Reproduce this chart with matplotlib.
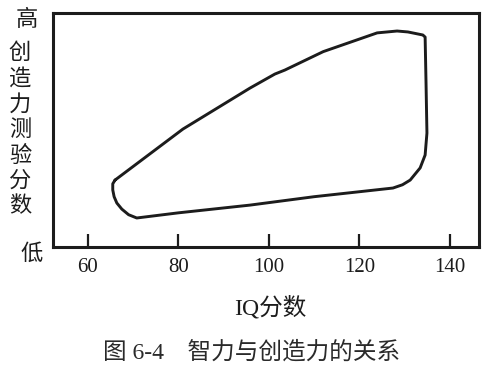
"Intelligence vs creativity region chart (Fig 6-4)"

import matplotlib.pyplot as plt

# outline of the scatter region (IQ, creativity 0-100)
iq = [66.0, 65.5, 65.5, 65.8, 66.4, 67.5, 69.0, 70.8, 80.0, 95.8, 110.0,
      127.4, 129.5, 131.2, 133.4, 134.5, 134.9, 134.7, 134.5, 134.0,
      130.7, 128.3, 123.9, 112.0, 103.5, 101.3, 95.8, 81.0, 66.0]
creativity = [28.6, 27.0, 24.4, 21.5, 18.8, 16.2, 13.8, 12.4, 14.6, 17.9,
              21.5, 25.2, 26.6, 28.6, 33.8, 39.3, 48.7, 70.0, 89.7, 90.6,
              91.9, 92.3, 91.5, 83.5, 75.6, 73.9, 67.9, 50.4, 28.6]

xticks = [60, 80, 100, 120, 140]
ylabel_chars = list('创造力测验分数')

W, H = 500, 379
ink = '#1c1c1c'
fam = ['Liberation Serif', 'Noto Sans CJK SC']


def fx(px):
    return px / W


def fy(py):
    return 1 - py / H


fig = plt.figure(figsize=(5, 3.79), dpi=100)
ax = fig.add_axes([fx(53), fy(247), fx(479) - fx(53), fy(13) - fy(247)])

ax.plot(iq, creativity, color=ink, lw=2.1, solid_joinstyle='round',
        solid_capstyle='round')
ax.set_xlim(52.3, 146.4)
ax.set_ylim(0, 100)

for s in ax.spines.values():
    s.set_linewidth(2.2)
    s.set_color(ink)

ax.set_xticks(xticks)
ax.set_xticklabels([str(v) for v in xticks], family=fam, fontsize=15,
                   color=ink)
ax.tick_params(axis='x', direction='in', length=9.5, width=1.6, pad=8,
               color=ink)
ax.set_yticks([])

# vertical y label with high/low marks
fig.text(fx(27), fy(20), '高', family=fam, fontsize=16, color=ink,
         ha='center', va='center')
fig.text(fx(32), fy(255), '低', family=fam, fontsize=16, color=ink,
         ha='center', va='center')
n = len(ylabel_chars)
for i, ch in enumerate(ylabel_chars):
    py = 54 + i * (207 - 54) / (n - 1)
    fig.text(fx(20), fy(py), ch, family=fam, fontsize=16, color=ink,
             ha='center', va='center')

fig.text(fx(270), fy(308), 'IQ分数', family=fam, fontsize=17, color=ink,
         ha='center', va='center')
fig.text(fx(252), fy(352), '图 6-4    智力与创造力的关系', family=fam,
         fontsize=17, color='#2a2a2a', ha='center', va='center')

plt.savefig('out.png', dpi=100, facecolor='white')
